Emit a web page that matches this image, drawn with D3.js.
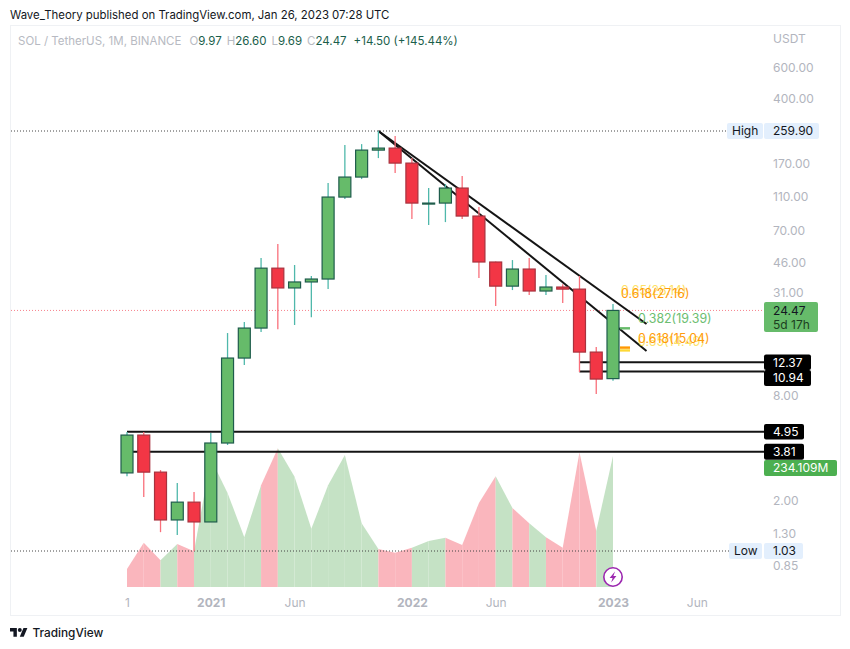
<!DOCTYPE html>
<html>
<head>
<meta charset="utf-8">
<script src="https://cdn.jsdelivr.net/npm/d3@7"></script>
<style>
  html, body { margin: 0; padding: 0; background: #fff; }
  svg { display: block; font-family: Inter, "Open Sans", sans-serif; }
</style>
</head>
<body>
<div class="chart-area"></div>
<script>
// monthly candles, Aug 2020 .. Jan 2023
const opens  = [2.88, 4.74, 2.91, 1.55, 1.96, 1.51, 4.27, 13.07, 19.4, 42.7, 32.9, 35.6, 37.0, 108.9, 141.7, 202.1, 207.5, 170.3, 99.3, 100.6, 122.6, 84.8, 46.3, 33.7, 42.2, 31.6, 33.3, 32.4, 14.14, 9.97];
const highs  = [4.93, 4.93, 2.99, 2.52, 2.24, 4.87, 18.17, 21.0, 48.8, 58.6, 44.5, 38.5, 130.9, 215.8, 218.7, 259.9, 243, 181.9, 122.6, 129.2, 143.5, 95.4, 46.6, 47.5, 48.8, 39.0, 34.6, 38.5, 15.1, 26.6];
const lows   = [2.76, 2.10, 1.32, 1.27, 1.03, 1.51, 4.16, 11.92, 18.4, 19.1, 20.2, 22.4, 32.4, 106, 138, 181.9, 149.3, 81.5, 75.3, 78.3, 81.5, 37.5, 25.9, 32.0, 30.0, 30.0, 27.0, 10.87, 8.14, 9.69];
const closes = [4.74, 2.91, 1.55, 1.96, 1.51, 4.27, 13.07, 19.4, 42.7, 32.9, 35.6, 37.0, 108.9, 141.7, 202.1, 207.5, 170.3, 100.6, 100.6, 122.6, 84.8, 46.3, 33.7, 42.2, 31.6, 33.3, 32.4, 14.14, 9.91, 24.47];
const volumes = [32, 79, 48, 77, 64, 229, 168, 89, 182, 248, 197, 104, 182, 236, 114, 68, 61, 70, 82, 88, 75, 150, 198, 141, 114, 89, 70, 241, 100, 234.109];

const priceTicks = [600, 400, 170, 110, 70, 46, 31, 8, 2, 1.3, 0.85];
const timeTickIndex = [0, 5, 10, 17, 22, 29, 34];
const timeTickLabels = ["1", "2021", "Jun", "2022", "Jun", "2023", "Jun"];
const boldTicks = ["2021", "2022", "2023"];

const high = 259.9, low = 1.03, last = 24.47;
const levelsLong = [4.95, 3.81];   // from the first candle
const levelsShort = [12.37, 10.94]; // from Nov 2022
const trendEnds = [20.45, 14.33];  // Mar 2023 prices of the two trendlines

const fibLabels = ["0.65(28.14)", "0.618(27.16)", "0.382(19.39)", "0.65(14.49)", "0.618(15.04)"];
const fibPrices = [28.14, 27.16, 19.39, 14.49, 15.04];
const fibColors = ["#fdd835", "#ff9800", "#66bb6a", "#fdd835", "#ff9800"];

const width = 850, height = 649;
const green = "#66bb6a", red = "#f23645";

const svg = d3.select(".chart-area").append("svg")
  .attr("width", width)
  .attr("height", height);

const x = d3.scaleLinear().domain([0, 29]).range([127, 613]);
const y = d3.scaleLog().domain([low, high]).range([551, 131]);
const yVol = d3.scaleLinear().domain([0, 234.109]).range([587, 456]);

const isUp = (i) => closes[i] >= opens[i];
const idx = d3.range(opens.length);

// header
svg.append("text").attr("x", 10).attr("y", 19)
  .attr("font-size", 11.4).attr("fill", "#131722")
  .text("Wave_Theory published on TradingView.com, Jan 26, 2023 07:28 UTC");

// chart frame
svg.append("rect").attr("x", 10.5).attr("y", 25.5)
  .attr("width", 830).attr("height", 590)
  .attr("fill", "#fff").attr("stroke", "#eff1f4");

// legend
const legend = svg.append("text").attr("x", 18).attr("y", 45).attr("font-size", 11.5);
legend.append("tspan").attr("fill", "#b7bac2").text("SOL / TetherUS, 1M, BINANCE");
[["O", "9.97"], ["H", "26.60"], ["L", "9.69"], ["C", "24.47"]].forEach((d, i) => {
  legend.append("tspan").attr("dx", i ? 5 : 8).attr("fill", "#b7bac2").text(d[0]);
  legend.append("tspan").attr("fill", "#1b5e4b").text(d[1]);
});
legend.append("tspan").attr("dx", 7).attr("fill", "#1b5e4b").text("+14.50 (+145.44%)");

// volume area, each segment takes the colour of the candle it ends on
const volArea = d3.area()
  .x((i) => x(i))
  .y0(yVol(0))
  .y1((i) => yVol(volumes[i]));

svg.append("g")
  .selectAll("path")
  .data(idx.slice(1))
  .enter()
  .append("path")
  .attr("d", (i) => volArea([i - 1, i]))
  .attr("fill", (i) => (isUp(i) ? "#c5e2c5" : "#fab6bd"))
  .attr("stroke", "none");

// high / low / last price lines
const dotted = svg.append("g").attr("fill", "none");
dotted.append("line").attr("x1", 11).attr("x2", 727).attr("y1", y(high)).attr("y2", y(high))
  .attr("stroke", "#444").attr("stroke-dasharray", "1 2");
dotted.append("line").attr("x1", 11).attr("x2", 729).attr("y1", y(low)).attr("y2", y(low))
  .attr("stroke", "#444").attr("stroke-dasharray", "1 2");
dotted.append("line").attr("x1", 11).attr("x2", 764).attr("y1", y(last)).attr("y2", y(last))
  .attr("stroke", "#f7818c").attr("stroke-dasharray", "1 2");

// horizontal levels
const axisX = 764;
const levels = svg.append("g").attr("stroke", "#141414").attr("stroke-width", 2);
levels.selectAll(".long").data(levelsLong).enter().append("line")
  .attr("x1", x(0)).attr("x2", axisX)
  .attr("y1", (d) => y(d)).attr("y2", (d) => y(d));
levels.selectAll(".short").data(levelsShort).enter().append("line")
  .attr("x1", x(27)).attr("x2", axisX)
  .attr("y1", (d) => y(d)).attr("y2", (d) => y(d));

// trendlines from the high to Mar 2023
svg.append("g").attr("stroke", "#141414").attr("stroke-width", 2)
  .selectAll("line").data(trendEnds).enter().append("line")
  .attr("x1", x(15)).attr("y1", y(high))
  .attr("x2", x(31)).attr("y2", (d) => y(d));

// candles
const candle = svg.append("g").selectAll("g").data(idx).enter().append("g");

candle.append("line")
  .attr("x1", (i) => x(i)).attr("x2", (i) => x(i))
  .attr("y1", (i) => y(highs[i])).attr("y2", (i) => y(lows[i]))
  .attr("stroke-width", 1.3)
  .attr("stroke", (i) => (isUp(i) ? "#4fb8ab" : "#f9707b"));

candle.append("rect")
  .attr("x", (i) => x(i) - 6)
  .attr("width", 12)
  .attr("y", (i) => y(Math.max(opens[i], closes[i])))
  .attr("height", (i) => Math.max(1, Math.abs(y(opens[i]) - y(closes[i]))))
  .attr("fill", (i) => (isUp(i) ? green : red))
  .attr("stroke", (i) => (isUp(i) ? "#1f5c4c" : "#a8323e"))
  .attr("stroke-width", 1.2);

// fib ticks and labels
const fib = svg.append("g").attr("font-size", 12.4);
fib.selectAll("rect").data(fibPrices.slice(2)).enter().append("rect")
  .attr("x", x(29) + 7).attr("width", 10)
  .attr("y", (d) => y(d) - 1).attr("height", 2.4)
  .attr("fill", (d) => fibColors[fibPrices.indexOf(d)]);
fib.selectAll("text").data(fibLabels).enter().append("text")
  .attr("x", (d, i) => x(29) + (i < 2 ? 8 : 25))
  .attr("y", (d, i) => y(fibPrices[i]) - 9)
  .attr("dy", "0.35em")
  .attr("fill", (d, i) => fibColors[i])
  .attr("opacity", (d, i) => (fibColors[i] === "#fdd835" ? 0.75 : 0.95))
  .text((d) => d);

// price axis
const yAxis = d3.axisRight(y)
  .tickValues(priceTicks)
  .tickFormat(d3.format(".2f"))
  .tickSize(0)
  .tickPadding(9);
const yG = svg.append("g").attr("transform", `translate(${axisX},0)`).call(yAxis);
yG.select(".domain").remove();
yG.selectAll("text").attr("fill", "#b2b5be").attr("font-size", 12).attr("font-family", "Inter");
svg.append("text").attr("x", 773).attr("y", 43).attr("font-size", 12).attr("fill", "#b2b5be").text("USDT");

// time axis
const xAxis = d3.axisBottom(x)
  .tickValues(timeTickIndex)
  .tickFormat((d, i) => timeTickLabels[i])
  .tickSize(0)
  .tickPadding(0);
const xG = svg.append("g").attr("transform", "translate(0,598)").call(xAxis);
xG.select(".domain").remove();
xG.selectAll("text")
  .attr("fill", "#b2b5be").attr("font-size", 12).attr("font-family", "Inter")
  .attr("font-weight", (d, i) => (boldTicks.includes(timeTickLabels[i]) ? 700 : 400));

// axis pills
function axisText(px, cy, label, color) {
  svg.append("text").attr("x", px).attr("y", cy).attr("dy", "0.36em")
    .attr("font-size", 12).attr("fill", color).text(label);
}
function pill(px, cy, w, h, fill, label, color, pad = 9) {
  svg.append("rect").attr("x", px).attr("y", cy - h / 2).attr("width", w).attr("height", h)
    .attr("rx", 2).attr("fill", fill);
  if (label) axisText(px + pad, cy, label, color);
}
pill(727, y(high), 36, 16, "#e3effd", "High", "#131722", 5);
pill(764, y(high), 55, 16, "#e3effd", "259.90", "#131722");
pill(729, y(low), 33, 16, "#e3effd", "Low", "#131722", 5);
pill(764, y(low), 39, 16, "#e3effd", "1.03", "#131722");

pill(764, y(last) + 6.5, 54, 30, green);
axisText(773, y(last), "24.47", "#131722");
axisText(773, y(last) + 14, "5d 17h", "#1c3d20");

pill(764, y(levelsShort[0]), 47, 15.5, "#000", "12.37", "#fff");
pill(764, y(levelsShort[1]) + 6.5, 47, 16, "#000", "10.94", "#fff");
pill(764, y(levelsLong[0]), 40, 15.5, "#000", "4.95", "#fff");
pill(764, y(levelsLong[1]), 40, 16, "#000", "3.81", "#fff");
pill(764, yVol(volumes[29]) + 12, 73, 16, "#4caf50", "234.109M", "#fff");

// lightning marker on the last candle
const bolt = svg.append("g").attr("transform", `translate(${x(29)},${yVol(0) - 10})`);
bolt.append("circle").attr("r", 9.2).attr("fill", "#fff").attr("stroke", "#9c27b0").attr("stroke-width", 1.6);
bolt.append("path").attr("d", "M2 -5.5 L-3.4 1 H-0.4 L-1.8 5.5 L3.4 -1 H0.4 Z").attr("fill", "#9c27b0");

// footer logo
const logo = svg.append("g").attr("transform", "translate(10,628) scale(0.49)").attr("fill", "#131722");
logo.append("path").attr("d", "M14 18H7V7H0V0h14v18zM28 18h-8L27.5 0h8L28 18z");
logo.append("circle").attr("cx", 20).attr("cy", 4).attr("r", 4);
svg.append("text").attr("x", 32.5).attr("y", 637).attr("font-size", 11.8).attr("font-weight", 500)
  .attr("fill", "#131722").text("TradingView");
</script>
</body>
</html>
